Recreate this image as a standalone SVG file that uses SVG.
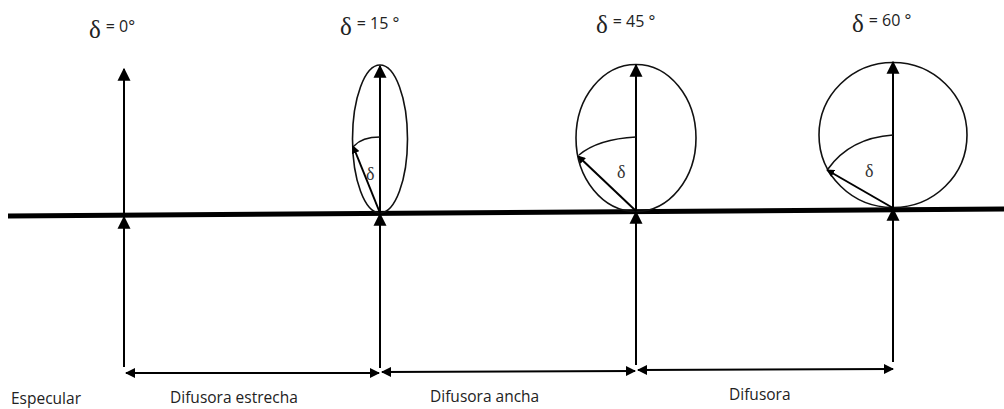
<svg xmlns="http://www.w3.org/2000/svg" width="1004" height="409" viewBox="0 0 1004 409">
<style>
.ln{stroke:#000;stroke-width:2;fill:none}
.lobe{stroke:#111;stroke-width:1.6;fill:none}
.lbl{font-family:"Open Sans","Liberation Sans",sans-serif;font-size:15.5px;fill:#222}
.t{font-family:"Open Sans","Liberation Sans",sans-serif;font-size:16px;fill:#222}
.d{font-family:"Liberation Serif",serif;font-size:25px;fill:#222}
.ds{font-family:"Liberation Serif",serif;font-size:18px;fill:#333}
</style>
<defs>
<marker id="ah" viewBox="0 0 10 10" refX="9" refY="5" markerWidth="8" markerHeight="8" orient="auto-start-reverse" markerUnits="userSpaceOnUse"><path d="M0,0L10,5L0,10z" fill="#000"/></marker>
<marker id="ahb" viewBox="0 0 10 10" refX="9" refY="5" markerWidth="13" markerHeight="14" orient="auto" markerUnits="userSpaceOnUse"><path d="M0,0L10,5L0,10z" fill="#000"/></marker>
<marker id="ahd" viewBox="0 0 10 10" refX="9" refY="5" markerWidth="10" markerHeight="10" orient="auto-start-reverse" markerUnits="userSpaceOnUse"><path d="M0,0L10,5L0,10z" fill="#000"/></marker>
</defs>
<g id="surface"><path d="M8,216 L1004,209" stroke="#000" stroke-width="5"/></g>
<g id="labels-top">
<text x="89" y="38" class="d">δ<tspan class="t" dx="5" dy="-6">= 0°</tspan></text>
<text x="340" y="35" class="d">δ<tspan class="t" dx="5" dy="-6">= 15 °</tspan></text>
<text x="596" y="33" class="d">δ<tspan class="t" dx="5" dy="-6">= 45 °</tspan></text>
<text x="852" y="32" class="d">δ<tspan class="t" dx="5" dy="-6">= 60 °</tspan></text>
</g>
<g id="specular">
<line x1="124" y1="216" x2="124" y2="69" class="ln" marker-end="url(#ahb)"/>
</g>
<g id="narrow">
<ellipse cx="380" cy="139" rx="27.5" ry="74" class="lobe"/>
<line x1="380" y1="213" x2="380" y2="66" class="ln" marker-end="url(#ahb)"/>
<line x1="380" y1="213" x2="353" y2="146" class="ln" marker-end="url(#ah)"/>
<path d="M380,137 Q362,137 354,146" class="lobe"/>
<text x="366" y="180" class="ds">δ</text>
</g>
<g id="wide">
<ellipse cx="636" cy="138" rx="60" ry="73.5" class="lobe"/>
<line x1="636" y1="211" x2="636" y2="65" class="ln" marker-end="url(#ahb)"/>
<line x1="636" y1="211" x2="578" y2="156" class="ln" marker-end="url(#ah)"/>
<path d="M636,137 Q598,139 579,155" class="lobe"/>
<text x="617" y="178" class="ds">δ</text>
</g>
<g id="diffuse">
<ellipse cx="893" cy="135" rx="74" ry="72.5" class="lobe"/>
<line x1="893" y1="208" x2="893" y2="62" class="ln" marker-end="url(#ahb)"/>
<line x1="893" y1="208" x2="827" y2="170" class="ln" marker-end="url(#ah)"/>
<path d="M893,135 Q850,138 828,169" class="lobe"/>
<text x="865" y="177" class="ds">δ</text>
</g>
<g id="connectors">
<line x1="124" y1="367" x2="124" y2="217" class="ln" marker-end="url(#ahb)"/>
<line x1="380" y1="368" x2="380" y2="214" class="ln" marker-end="url(#ahb)"/>
<line x1="636" y1="365" x2="636" y2="212" class="ln" marker-end="url(#ahb)"/>
<line x1="893" y1="362" x2="893" y2="209" class="ln" marker-end="url(#ahb)"/>
<line x1="126" y1="373" x2="379" y2="373" class="ln" marker-start="url(#ahd)" marker-end="url(#ahd)"/>
<line x1="382" y1="372" x2="635" y2="371" class="ln" marker-start="url(#ahd)" marker-end="url(#ahd)"/>
<line x1="638" y1="370" x2="893" y2="369" class="ln" marker-start="url(#ahd)" marker-end="url(#ahd)"/>
</g>
<g id="labels-bottom">
<text x="11" y="404" class="lbl">Especular</text>
<text x="170" y="403" class="lbl">Difusora estrecha</text>
<text x="430" y="402" class="lbl">Difusora ancha</text>
<text x="729" y="400" class="lbl">Difusora</text>
</g>
</svg>
